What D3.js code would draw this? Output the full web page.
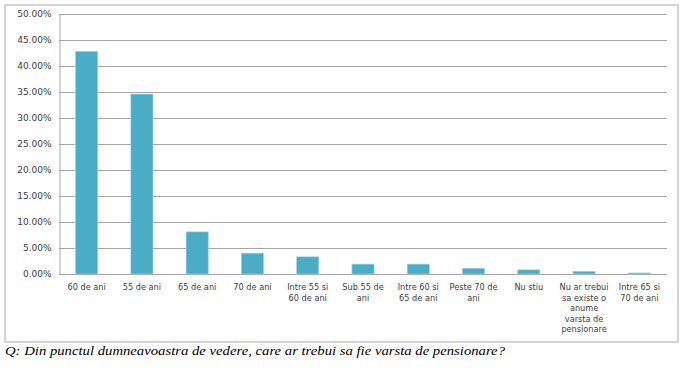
<!DOCTYPE html>
<html>
<head>
<meta charset="utf-8">
<script src="https://cdn.jsdelivr.net/npm/d3@7"></script>
<style>
  body { margin: 0; background: #fff; }
  svg { display: block; }
</style>
</head>
<body>
<svg id="chart" width="690" height="375"></svg>
<script>
// answers (line breaks follow the wrapping in the original)
const categories = [
    '60 de ani',
    '55 de ani',
    '65 de ani',
    '70 de ani',
    'Intre 55 si\n60 de ani',
    'Sub 55 de\nani',
    'Intre 60 si\n65 de ani',
    'Peste 70 de\nani',
    'Nu stiu',
    'Nu ar trebui\nsa existe o\nanume\nvarsta de\npensionare',
    'Intre 65 si\n70 de ani'
];
const shares = [42.8, 34.6, 8.1, 4.0, 3.3, 1.9, 1.9, 1.1, 0.8, 0.5, 0.2];
const yTicks = [0, 5, 10, 15, 20, 25, 30, 35, 40, 45, 50];
const caption = 'Q: Din punctul dumneavoastra de vedere, care ar trebui sa fie varsta de pensionare?';

const svg = d3.select('#chart');
const plot = { left: 59, right: 667, top: 14, bottom: 274 };

// outer frame
svg.append('rect')
    .attr('x', 5).attr('y', 5)
    .attr('width', 673).attr('height', 337)
    .attr('fill', '#fff')
    .attr('stroke', '#c6c6c6')
    .attr('stroke-width', 1.5);

let x = d3.scaleBand()
    .domain(d3.range(categories.length))
    .range([plot.left, plot.right])
    .paddingInner(0.6)
    .paddingOuter(0.3);

let y = d3.scaleLinear()
    .domain([0, 50])
    .range([plot.bottom, plot.top]);

// gridlines
svg.append('g')
    .selectAll('line')
    .data(yTicks)
    .join('line')
    .attr('x1', plot.left).attr('x2', plot.right)
    .attr('y1', d => y(d) + 0.5).attr('y2', d => y(d) + 0.5)
    .attr('stroke', '#a5a5a5')
    .attr('stroke-width', 1);

// y axis
let yAxis = svg.append('g')
    .attr('transform', `translate(${plot.left + 0.5},0)`)
    .call(d3.axisLeft(y).tickValues(yTicks).tickSize(0).tickPadding(8)
        .tickFormat(d => d.toFixed(2) + '%'));
yAxis.select('.domain').attr('stroke', '#a5a5a5');
yAxis.selectAll('text')
    .attr('font-family', 'DejaVu Sans, Verdana, sans-serif')
    .attr('font-size', 9)
    .attr('fill', '#404040');

// bars
svg.append('g')
    .selectAll('rect')
    .data(shares)
    .join('rect')
    .attr('x', (d, i) => x(i))
    .attr('y', d => y(d))
    .attr('width', x.bandwidth())
    .attr('height', d => y(0) - y(d))
    .attr('fill', '#4bacc6')
    .attr('stroke', '#9fd3e2')
    .attr('stroke-width', 0.6);

// category labels
let labels = svg.append('g')
    .selectAll('text')
    .data(categories)
    .join('text')
    .attr('x', (d, i) => x(i) + x.bandwidth() / 2)
    .attr('y', 290)
    .attr('text-anchor', 'middle')
    .attr('font-family', 'DejaVu Sans, Verdana, sans-serif')
    .attr('font-size', 8.2)
    .attr('fill', '#404040');
labels.selectAll('tspan')
    .data(d => d.split('\n'))
    .join('tspan')
    .attr('x', function () { return this.parentNode.getAttribute('x'); })
    .attr('dy', (d, i) => i ? 10.5 : 0)
    .text(d => d);

// question under the chart
svg.append('text')
    .attr('x', 5)
    .attr('y', 355)
    .attr('font-family', 'Liberation Serif, Times New Roman, serif')
    .attr('font-style', 'italic')
    .attr('font-size', 12.5)
    .attr('textLength', 500)
    .attr('lengthAdjust', 'spacingAndGlyphs')
    .attr('fill', '#000')
    .text(caption);
</script>
</body>
</html>
